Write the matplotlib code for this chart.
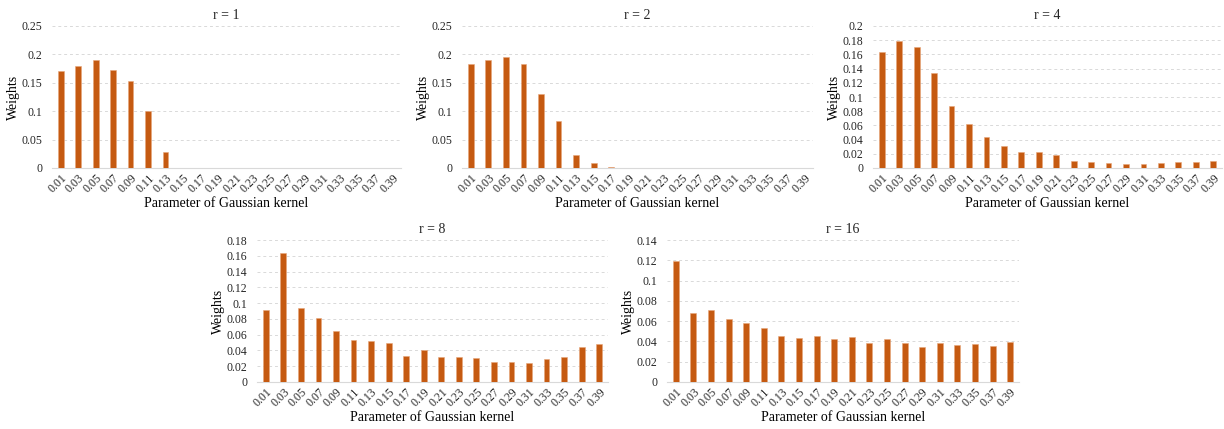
import numpy as np
import matplotlib
matplotlib.use("Agg")
import matplotlib.pyplot as plt

plt.rcParams['font.family'] = ['Liberation Serif', 'DejaVu Serif']

W, H = 1224, 429

params = ["0.01", "0.03", "0.05", "0.07", "0.09", "0.11", "0.13", "0.15", "0.17", "0.19",
          "0.21", "0.23", "0.25", "0.27", "0.29", "0.31", "0.33", "0.35", "0.37", "0.39"]

w_r1 = [0.171, 0.179, 0.190, 0.172, 0.153, 0.101, 0.029, 0, 0, 0,
        0, 0, 0, 0, 0, 0, 0, 0, 0, 0]
w_r2 = [0.183, 0.190, 0.1955, 0.183, 0.130, 0.082, 0.023, 0.0088, 0.0023, 0.0006,
        0.0005, 0.0004, 0.0005, 0.0005, 0.0005, 0.0005, 0.0005, 0.0005, 0.0005, 0.0005]
w_r4 = [0.1635, 0.179, 0.1705, 0.1335, 0.0876, 0.0623, 0.043, 0.0304, 0.023, 0.0225,
        0.0178, 0.0098, 0.0089, 0.0075, 0.0056, 0.0056, 0.0075, 0.0089, 0.0089, 0.0098]
w_r8 = [0.091, 0.1635, 0.0944, 0.0817, 0.0644, 0.053, 0.0517, 0.050, 0.033, 0.0407,
        0.0313, 0.0313, 0.0305, 0.0254, 0.025, 0.0237, 0.0288, 0.0322, 0.044, 0.0483]
w_r16 = [0.1192, 0.0685, 0.0708, 0.0626, 0.058, 0.053, 0.0458, 0.0431, 0.0451, 0.0425,
         0.0441, 0.0385, 0.0422, 0.0385, 0.0346, 0.0389, 0.0366, 0.0379, 0.0359, 0.0395]

titles = ["r = 1", "r = 2", "r = 4", "r = 8", "r = 16"]
series = [w_r1, w_r2, w_r4, w_r8, w_r16]
y_max = [0.25, 0.25, 0.2, 0.18, 0.14]
y_step = [0.05, 0.05, 0.02, 0.02, 0.02]

# axes boxes in pixels: left, top, right, bottom
boxes = [(52, 26, 401, 168),
         (462, 26, 813, 168),
         (873, 26, 1222, 168),
         (257, 240, 608, 382),
         (667, 240, 1019, 382)]

BAR = '#C55A11'
GRID = '#d9d9d9'
TXT = '#262626'

fig = plt.figure(figsize=(W / 100, H / 100), dpi=100)

for (l, t, r, b), vals, title, ym, ys in zip(boxes, series, titles, y_max, y_step):
    ax = fig.add_axes([l / W, 1 - b / H, (r - l) / W, (b - t) / H])
    x = np.arange(len(params))
    ax.bar(x, vals, width=0.33, color=BAR, edgecolor='#e8a57a', linewidth=0.4, zorder=3)
    ax.set_xlim(-0.5, len(params) - 0.5)
    ax.set_ylim(0, ym)
    ticks = np.arange(0, ym + ys / 2, ys)
    ax.set_yticks(ticks)
    ax.set_yticklabels([f"{v:.2f}".rstrip('0').rstrip('.') if v != 0 else "0" for v in ticks])
    ax.set_xticks(x)
    ax.set_xticklabels(params, rotation=45, ha='right', rotation_mode='anchor')
    ax.tick_params(axis='both', length=0, labelsize=8.5, colors=TXT)
    ax.tick_params(axis='x', pad=3)
    ax.tick_params(axis='y', pad=7)
    for s in ['top', 'right', 'left']:
        ax.spines[s].set_visible(False)
    ax.spines['bottom'].set_color(GRID)
    ax.spines['bottom'].set_linewidth(0.8)
    ax.yaxis.grid(True, color=GRID, linestyle=(0, (3, 3)), linewidth=0.7, zorder=0)
    ax.set_axisbelow(True)
    ax.set_title(title, fontsize=10, color=TXT, pad=5)
    ax.set_ylabel('Weights', fontsize=10, labelpad=1, color='black')
    ax.set_xlabel('Parameter of Gaussian kernel', fontsize=10, labelpad=1, color='black')

fig.savefig('out.png', dpi=100)
